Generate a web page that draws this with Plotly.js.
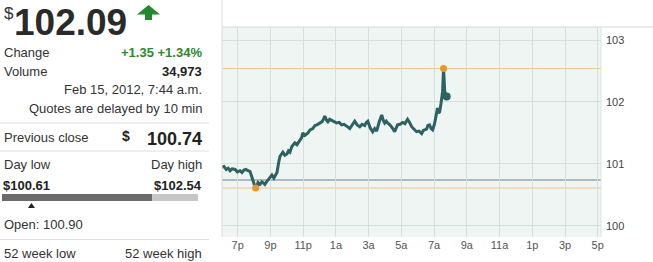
<!DOCTYPE html>
<html>
<head>
<meta charset="utf-8">
<script src="https://cdn.plot.ly/plotly-3.0.1.min.js"></script>
<style>
  html, body { margin: 0; padding: 0; background: #fff; }
  #chart { width: 653px; height: 262px; }
</style>
</head>
<body>
<div id="chart"></div>
<script>
// ---- data ----
const times = [18.04,18.16,18.30,18.42,18.53,18.66,18.84,18.98,19.14,19.26,19.38,19.50,19.63,19.75,19.85,19.93,20.02,20.10,20.18,20.24,20.36,20.48,20.58,20.66,20.76,20.85,20.97,21.09,21.21,21.32,21.40,21.50,21.58,21.68,21.76,21.88,22.01,22.10,22.19,22.31,22.40,22.49,22.62,22.80,22.90,22.98,23.10,23.29,23.42,23.59,23.72,23.84,23.98,24.14,24.24,24.32,24.42,24.51,24.62,24.75,24.90,25.05,25.20,25.35,25.50,25.66,25.76,25.85,26.00,26.15,26.30,26.46,26.60,26.76,26.86,26.95,27.10,27.25,27.37,27.49,27.65,27.80,27.90,27.98,28.08,28.16,28.30,28.41,28.50,28.59,28.68,28.77,28.92,29.08,29.22,29.38,29.50,29.63,29.78,29.93,30.08,30.24,30.34,30.42,30.54,30.62,30.72,30.82,30.91,31.02,31.15,31.21,31.28,31.34,31.42,31.46,31.52,31.58,31.62,31.65,31.72,31.77];
const prices = [100.95,100.96,100.91,100.93,100.89,100.92,100.91,100.87,100.89,100.86,100.90,100.91,100.89,100.88,100.80,100.71,100.66,100.61,100.66,100.70,100.67,100.71,100.69,100.67,100.71,100.74,100.79,100.82,100.77,100.82,100.86,101.02,101.12,101.16,101.19,101.14,101.16,101.21,101.19,101.28,101.31,101.34,101.31,101.37,101.42,101.50,101.46,101.50,101.55,101.57,101.62,101.63,101.66,101.68,101.72,101.77,101.71,101.68,101.72,101.70,101.68,101.66,101.67,101.63,101.64,101.60,101.59,101.57,101.64,101.69,101.63,101.60,101.64,101.62,101.67,101.69,101.58,101.52,101.57,101.53,101.68,101.79,101.70,101.66,101.69,101.66,101.63,101.60,101.56,101.52,101.58,101.63,101.64,101.67,101.65,101.72,101.67,101.60,101.56,101.52,101.53,101.49,101.54,101.55,101.56,101.62,101.63,101.57,101.55,101.64,101.79,101.90,101.82,101.84,101.97,102.03,102.17,102.54,102.25,102.17,102.12,102.09];

const lowTime = 20.10, highTime = 31.58;
const lastPrice = 102.09;
const changeAbs = 1.35, changePct = 1.34;
const volume = "34,973";
const quoteTime = "Feb 15, 2012, 7:44 a.m.";
const prevClose = 100.74;
const dayLow = 100.61, dayHigh = 102.54;
const openPrice = 100.90;

const tickHours = [19,21,23,25,27,29,31,33,35,37,39,41];
const tickLabels = ['7p','9p','11p','1a','3a','5a','7a','9a','11a','1p','3p','5p'];
const yTicks = [100,101,102,103];

// ---- layout helpers (pixel -> paper) ----
const W = 653, H = 262, ML = 222, MR = 52, MT = 27, MB = 25;
const PW = W - ML - MR, PH = H - MT - MB;
const px = x => (x - ML) / PW;
const py = y => (H - MB - y) / PH;

const FONT = '"Liberation Sans", Arial, sans-serif';
const TXT = '#333';
const GREEN = '#2b8a2b';

function ann(text, x, y, anchor, size, color, bold, yanchor) {
  return {
    xref: 'paper', yref: 'paper', x: px(x), y: py(y),
    xanchor: anchor, yanchor: yanchor || 'middle', showarrow: false,
    text: bold ? '<b>' + text + '</b>' : text,
    font: {family: FONT, size: size, color: color || TXT}
  };
}

const annotations = [
  ann('$', 2, 13, 'left', 17, TXT, false),
  ann(lastPrice.toFixed(2), 12, 0, 'left', 37, '#2a2a2a', true, 'top'),
  ann('Change', 2, 52, 'left', 13),
  ann('+' + changeAbs.toFixed(2) + ' +' + changePct.toFixed(2) + '%', 204, 52, 'right', 13, GREEN, true),
  ann('Volume', 2, 71, 'left', 13),
  ann(volume, 204, 71, 'right', 13, '#222', true),
  ann(quoteTime, 204, 89.5, 'right', 13),
  ann('Quotes are delayed by 10 min', 204, 109, 'right', 13),
  ann('Previous close', 2, 137, 'left', 13),
  ann('$', 132, 136, 'right', 14, '#222', true),
  ann(prevClose.toFixed(2), 204, 139, 'right', 18, '#222', true),
  ann('Day low', 2, 164, 'left', 13),
  ann('Day high', 204, 164, 'right', 13),
  ann('$' + dayLow.toFixed(2), 1, 185, 'left', 13, '#222', true),
  ann('$' + dayHigh.toFixed(2), 204, 185, 'right', 13, '#222', true),
  ann('Open: ' + openPrice.toFixed(2), 2, 224, 'left', 13),
  ann('52 week low', 2, 253, 'left', 13),
  ann('52 week high', 204, 253, 'right', 13)
];

// range bar positions computed from the values
const barL = 2, barR = 198;
const frac = (lastPrice - dayLow) / (dayHigh - dayLow);
const barSplit = barL + frac * (barR - barL);
const openX = barL + (openPrice - dayLow) / (dayHigh - dayLow) * (barR - barL);

function pathPx(pts) {
  return 'M' + pts.map(p => px(p[0]) + ',' + py(p[1])).join(' L') + ' Z';
}

const shapes = [
  // reference lines (data coords)
  {type:'line', xref:'paper', yref:'y', x0:0, x1:1, y0:dayHigh, y1:dayHigh, line:{color:'#f2c48e', width:1}, layer:'below'},
  {type:'line', xref:'paper', yref:'y', x0:0, x1:1, y0:dayLow, y1:dayLow, line:{color:'#f2c48e', width:1}, layer:'below'},
  {type:'line', xref:'paper', yref:'y', x0:0, x1:1, y0:prevClose, y1:prevClose, line:{color:'#6f7f96', width:1}, layer:'below'},
  // chart frame lines
  {type:'line', xref:'paper', yref:'paper', x0:0, x1:px(W), y0:1, y1:1, line:{color:'#d6d9d8', width:1}},
  {type:'line', xref:'paper', yref:'paper', x0:0, x1:0, y0:0, y1:py(0), line:{color:'#dcdcdc', width:1}},
  {type:'line', xref:'paper', yref:'paper', x0:1, x1:1, y0:0, y1:1, line:{color:'#dde5e2', width:1}},
  // left panel separators
  {type:'line', xref:'paper', yref:'paper', x0:px(0), x1:px(209), y0:py(123), y1:py(123), line:{color:'#dedede', width:1}},
  {type:'line', xref:'paper', yref:'paper', x0:px(0), x1:px(209), y0:py(151), y1:py(151), line:{color:'#dedede', width:1}},
  {type:'line', xref:'paper', yref:'paper', x0:px(0), x1:px(209), y0:py(239.5), y1:py(239.5), line:{color:'#dedede', width:1}},
  // day range bar
  {type:'rect', xref:'paper', yref:'paper', x0:px(barL), x1:px(barSplit), y0:py(201), y1:py(194), fillcolor:'#6b6b6b', line:{width:0}},
  {type:'rect', xref:'paper', yref:'paper', x0:px(barSplit), x1:px(barR), y0:py(201), y1:py(194), fillcolor:'#c6c6c6', line:{width:0}},
  // open marker triangle
  {type:'path', xref:'paper', yref:'paper', path: pathPx([[openX-3.5,208],[openX,203],[openX+3.5,208]]), fillcolor:'#222', line:{width:0}},
  // green up arrow
  {type:'path', xref:'paper', yref:'paper', path: pathPx([[148.5,5],[160,14.5],[152,14.5],[152,20],[145,20],[145,14.5],[137,14.5]]), fillcolor:'#1f8a2e', line:{width:0}}
];

const traces = [
  {x: times, y: prices, type:'scatter', mode:'lines', line:{color:'#2e6262', width:3}, hoverinfo:'skip'},
  {x: [lowTime, highTime], y: [dayLow, dayHigh], type:'scatter', mode:'markers',
   marker:{color:'#e8962e', size:7}, hoverinfo:'skip'},
  {x: [times[times.length-1]], y: [prices[prices.length-1]], type:'scatter', mode:'markers',
   marker:{color:'#2e6262', size:8}, hoverinfo:'skip'}
];

const layout = {
  width: W, height: H,
  margin: {l: ML, r: MR, t: MT, b: MB, pad: 0},
  paper_bgcolor: '#ffffff',
  plot_bgcolor: '#eef5f2',
  showlegend: false,
  font: {family: FONT, size: 11, color: '#555'},
  xaxis: {
    range: [18.04, 41.2], tickvals: tickHours, ticktext: tickLabels,
    showgrid: true, gridcolor: '#d5dfdb', gridwidth: 1, zeroline: false,
    showline: false, ticks: '', tickfont: {family: FONT, size: 11, color: '#555'},
    fixedrange: true
  },
  yaxis: {
    range: [99.82, 103.21], side: 'right', tickvals: yTicks, ticktext: yTicks.map(String),
    showgrid: true, gridcolor: '#d5dfdb', gridwidth: 1, zeroline: false,
    showline: false, ticks: '', ticklabelstandoff: 4,
    tickfont: {family: FONT, size: 11, color: '#444'}, fixedrange: true
  },
  annotations: annotations,
  shapes: shapes
};

Plotly.newPlot('chart', traces, layout, {displayModeBar: false, staticPlot: true});
</script>
</body>
</html>
